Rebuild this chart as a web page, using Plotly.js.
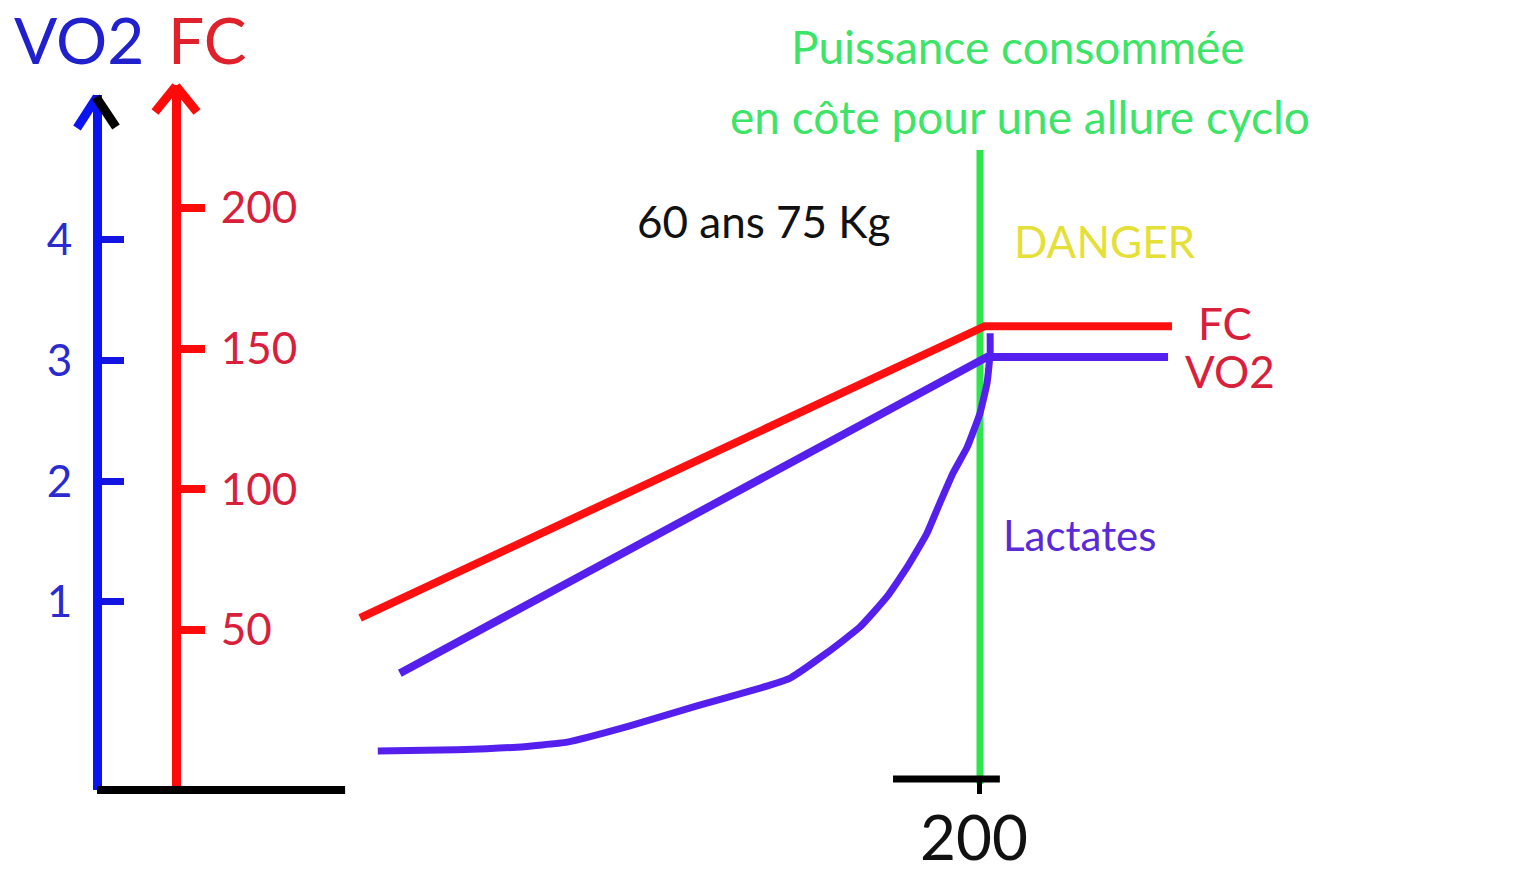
<!DOCTYPE html>
<html>
<head>
<meta charset="utf-8">
<script src="https://cdn.plot.ly/plotly-3.0.1.min.js"></script>
<style>html,body{margin:0;padding:0;background:#fff;}#chart{width:1521px;height:873px;}</style>
</head>
<body>
<div id="chart"></div>
<script>
// ---- data ----
const powerFC   = [59.6, 201.1, 243.5];          // watts
const fcValues  = [54.3, 158, 158];              // bpm
const powerVO2  = [68.6, 201.6, 242.6];
const vo2Values = [0.41, 3.03, 3.03];            // L/min
const powerLact = [63.6, 81.5, 95.1, 106.5, 120.7, 135.9, 150.2, 157.0, 165.3, 172.8, 178.9, 183.5, 188.0, 190.9, 193.9, 197.1, 200.0, 201.6, 202.3, 202.3];
const lactValues= [1.01, 1.04, 1.11, 1.24, 1.66, 2.18, 2.64, 2.90, 3.55, 4.22, 5.00, 5.77, 6.65, 7.43, 8.21, 8.88, 9.76, 10.54, 11.32, 11.83];
const fcTicks   = [50, 100, 150, 200];
const vo2Ticks  = [1, 2, 3, 4];
const powerTicks= [200];
const powerTickText = ['200'];
const thresholdPower = 200;

// ---- layout helpers ----
const W = 1521, H = 873;
const fx = p => p / W;
const fy = p => 1 - p / H;
const FONT = 'Lato, "Open Sans", sans-serif';

const traces = [
  {x: powerFC, y: fcValues, xaxis: 'x', yaxis: 'y', mode: 'lines',
   line: {color: '#ff1010', width: 8}, name: 'FC', hoverinfo: 'skip'},
  {x: powerVO2, y: vo2Values, xaxis: 'x', yaxis: 'y2', mode: 'lines',
   line: {color: '#5520ee', width: 8}, name: 'VO2', hoverinfo: 'skip'},
  {x: powerLact, y: lactValues, xaxis: 'x', yaxis: 'y3', mode: 'lines',
   line: {color: '#5520ee', width: 7, shape: 'spline', smoothing: 0.4}, name: 'Lactates', hoverinfo: 'skip'}
];

function ann(text, x, y, size, color) {
  return {text: text, x: fx(x), y: fy(y), xref: 'paper', yref: 'paper',
          xanchor: 'center', yanchor: 'middle', showarrow: false,
          font: {family: FONT, size: size, color: color}};
}
function seg(x0, y0, x1, y1, color, width) {
  return {type: 'line', xref: 'paper', yref: 'paper', x0: fx(x0), y0: fy(y0), x1: fx(x1), y1: fy(y1),
          line: {color: color, width: width}, layer: 'above'};
}

const layout = {
  width: W, height: H,
  margin: {l: 0, r: 0, t: 0, b: 0},
  paper_bgcolor: '#ffffff', plot_bgcolor: 'rgba(0,0,0,0)',
  showlegend: false,
  xaxis: {range: [-21.97, 322.54], domain: [0, 1], anchor: 'free', position: fy(779),
          showline: false, showgrid: false, zeroline: false,
          ticks: 'outside', ticklen: 14, tickwidth: 5, tickcolor: '#000',
          tickvals: powerTicks, ticktext: powerTickText,
          tickfont: {family: FONT, size: 62, color: '#111'}, ticklabelstandoff: -8,
          ticklabelshift: -6},
  yaxis: {domain: [fy(790), fy(85)], range: [-6.87, 243.72], anchor: 'free', position: fx(176),
          side: 'right', showline: true, linecolor: '#ff0a0a', linewidth: 9,
          ticks: 'outside', ticklen: 24, tickwidth: 8, tickcolor: '#ff0a0a',
          tickvals: fcTicks, tickfont: {family: FONT, size: 44, color: '#d8203a'},
          ticklabelstandoff: 7, showgrid: false, zeroline: false},
  yaxis2: {domain: [fy(790), fy(95)], range: [-0.558, 5.201], anchor: 'free', position: fx(97),
           side: 'left', showline: true, linecolor: '#0a14f0', linewidth: 9,
           ticks: 'inside', ticklen: 22, tickwidth: 7, tickcolor: '#1414e0',
           tickvals: vo2Ticks, tickfont: {family: FONT, size: 44, color: '#2a2ad0'},
           ticklabelstandoff: 12, showgrid: false, zeroline: false},
  yaxis3: {overlaying: 'y2', visible: false, range: [0, 18]},
  shapes: [
    // threshold line
    {type: 'line', xref: 'x', yref: 'paper', x0: thresholdPower, x1: thresholdPower, y0: fy(784), y1: fy(150),
     line: {color: '#2ee64c', width: 7}, layer: 'below'},
    // baseline segments
    {type: 'line', xref: 'x', yref: 'paper', x0: 0, x1: 56.2, y0: fy(790), y1: fy(790),
     line: {color: '#000', width: 8}, layer: 'above'},
    {type: 'line', xref: 'x', yref: 'paper', x0: 180.3, x1: 204.5, y0: fy(779), y1: fy(779),
     line: {color: '#000', width: 7}, layer: 'above'},
    // arrow heads
    seg(77, 128, 97, 97, '#0a14f0', 9),
    seg(96, 97, 116, 127, '#000', 9),
    seg(155, 112, 176, 86, '#ff0a0a', 9),
    seg(176, 86, 197, 112, '#ff0a0a', 9)
  ],
  annotations: [
    ann('VO2', 79, 40, 64, '#2020cc'),
    ann('FC', 207, 40, 64, '#e0202a'),
    ann('Puissance consommée', 1018, 46, 46, '#3ce468'),
    ann('en côte pour une allure cyclo', 1020, 117, 46, '#3ce468'),
    ann('60 ans 75 Kg', 763, 221, 44, '#111'),
    ann('DANGER', 1105, 241, 44, '#e4e038'),
    ann('FC', 1225, 323, 44, '#d8203a'),
    ann('VO2', 1230, 371, 44, '#d8203a'),
    ann('Lactates', 1079, 535, 42, '#5a2ad8')
  ]
};

Plotly.newPlot('chart', traces, layout, {displayModeBar: false, staticPlot: true});
</script>
</body>
</html>
